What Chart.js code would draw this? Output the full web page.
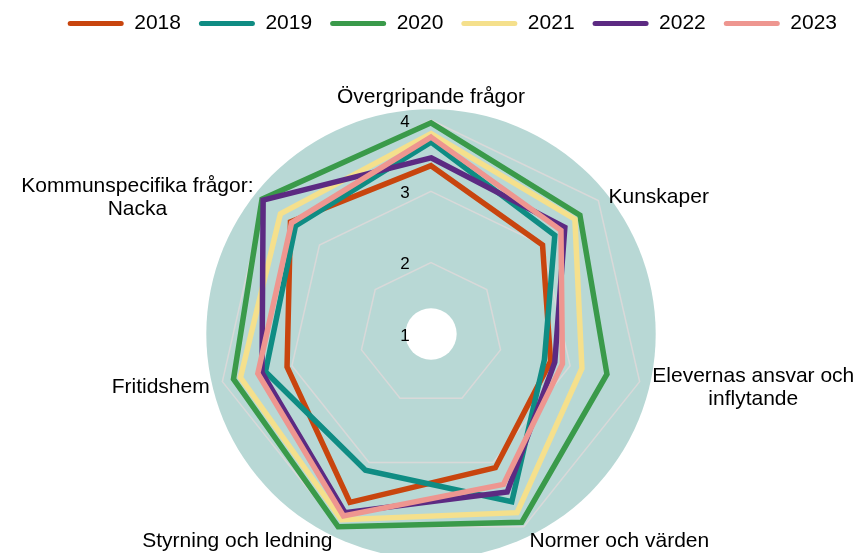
<!DOCTYPE html>
<html><head><meta charset="utf-8">
<script src="https://cdn.jsdelivr.net/npm/chart.js@4.4.1/dist/chart.umd.min.js"></script>
<style>html,body{margin:0;padding:0;background:#fff;}canvas{display:block}</style>
</head><body>
<canvas id="c" width="860" height="553"></canvas>
<script>
const categories = [
  ["Övergripande frågor"],
  ["Kunskaper"],
  ["Elevernas ansvar och", "inflytande"],
  ["Normer och värden"],
  ["Styrning och ledning"],
  ["Fritidshem"],
  ["Kommunspecifika frågor:", "Nacka"]
];
const seriesNames = ["2018", "2019", "2020", "2021", "2022", "2023"];
const values2018 = [3.36, 3.00, 2.72, 3.08, 3.62, 3.07, 3.52];
const values2019 = [3.69, 3.22, 2.63, 3.61, 3.12, 3.38, 3.43];
const values2020 = [3.96, 3.67, 3.53, 3.93, 4.00, 3.84, 4.03];
const values2021 = [3.81, 3.58, 3.17, 3.78, 3.89, 3.74, 3.70];
const values2022 = [3.47, 3.40, 2.78, 3.46, 3.78, 3.43, 4.01];
const values2023 = [3.76, 3.33, 2.89, 3.34, 3.83, 3.49, 3.50];
const tickValues = [1, 2, 3, 4];

const seriesValues = [values2018, values2019, values2020, values2021, values2022, values2023];
const seriesColors = ["#c8450e", "#0f8c83", "#3a9a4a", "#f5e08c", "#5c2a82", "#ee9690"];

const FONT = "'Liberation Sans', Arial, sans-serif";

const radarDecor = {
  id: 'radarDecor',
  beforeDraw(chart) {
    const s = chart.scales.r, ctx = chart.ctx;
    ctx.save();
    ctx.fillStyle = '#b8d8d5';
    ctx.beginPath();
    ctx.arc(s.xCenter, s.yCenter, s.getDistanceFromCenterForValue(4.15), 0, Math.PI * 2);
    ctx.fill();
    ctx.fillStyle = '#ffffff';
    ctx.beginPath();
    ctx.arc(s.xCenter, s.yCenter, s.getDistanceFromCenterForValue(1.36), 0, Math.PI * 2);
    ctx.fill();
    ctx.restore();
  },
  afterDraw(chart) {
    const s = chart.scales.r, ctx = chart.ctx;
    ctx.save();
    // tick labels
    ctx.fillStyle = '#000';
    ctx.font = '17px ' + FONT;
    ctx.textAlign = 'center';
    ctx.textBaseline = 'middle';
    tickValues.forEach(v => {
      const d = s.getDistanceFromCenterForValue(v);
      ctx.fillText(String(v), s.xCenter - 26, s.yCenter - d + 2);
    });
    // category labels
    ctx.font = '21px ' + FONT;
    const lineH = 23.5;
    categories.forEach((lines, i) => {
      const p = s.getPointPosition(i, s.drawingArea + 13);
      const a = s.getIndexAngle(i);
      const sn = Math.sin(a), cs = Math.cos(a);
      const w = Math.max(...lines.map(t => ctx.measureText(t).width));
      let cx;
      if (sn > 0.1) cx = p.x + w / 2;
      else if (sn < -0.1) cx = p.x - w / 2;
      else cx = p.x;
      const blockH = lines.length * lineH;
      let top;
      if (cs > 0.97) top = p.y - blockH + 2;
      else if (cs < -0.97) top = p.y;
      else top = p.y - blockH / 2 + (cs > 0 ? 5 : (cs > -0.5 ? 3 : 3));
      ctx.textAlign = 'center';
      ctx.textBaseline = 'middle';
      lines.forEach((t, k) => ctx.fillText(t, cx, top + lineH * (k + 0.5)));
    });
    ctx.restore();
  }
};

const datasets = seriesNames.map((name, i) => ({
  label: name,
  data: seriesValues[i],
  borderColor: seriesColors[i],
  backgroundColor: seriesColors[i],
  borderWidth: 5.5,
  pointRadius: 0,
  pointHoverRadius: 0,
  fill: false,
  tension: 0,
  borderJoinStyle: 'miter',
  order: seriesNames.length - i
}));

new Chart(document.getElementById('c'), {
  type: 'radar',
  data: { labels: categories, datasets },
  options: {
    responsive: false,
    animation: false,
    layout: { padding: { top: -5, left: 7, right: 5, bottom: 4 } },
    plugins: {
      tooltip: { enabled: false },
      title: {
        display: true, text: '', weight: 100,
        padding: { top: 66, bottom: 0 },
        font: { size: 10, lineHeight: 1 }
      },
      legend: {
        position: 'top',
        align: 'end',
        labels: {
          font: { family: FONT, size: 21 },
          color: '#000',
          boxWidth: 56,
          boxHeight: 5,
          padding: 18,
          useBorderRadius: true,
          borderRadius: 2.5,
          generateLabels(chart) {
            return chart.data.datasets.map((ds, i) => ({
              text: ds.label,
              fillStyle: ds.borderColor,
              strokeStyle: ds.borderColor,
              lineWidth: 0,
              borderRadius: 2.5,
              fontColor: '#000',
              hidden: !chart.isDatasetVisible(i),
              datasetIndex: i
            }));
          }
        }
      }
    },
    scales: {
      r: {
        min: 1,
        max: 4,
        ticks: { display: false, stepSize: 1 },
        grid: { color: '#d9d9d9', lineWidth: 1.5 },
        angleLines: { display: false },
        pointLabels: { display: false }
      }
    }
  },
  plugins: [radarDecor]
});
</script>
</body></html>
